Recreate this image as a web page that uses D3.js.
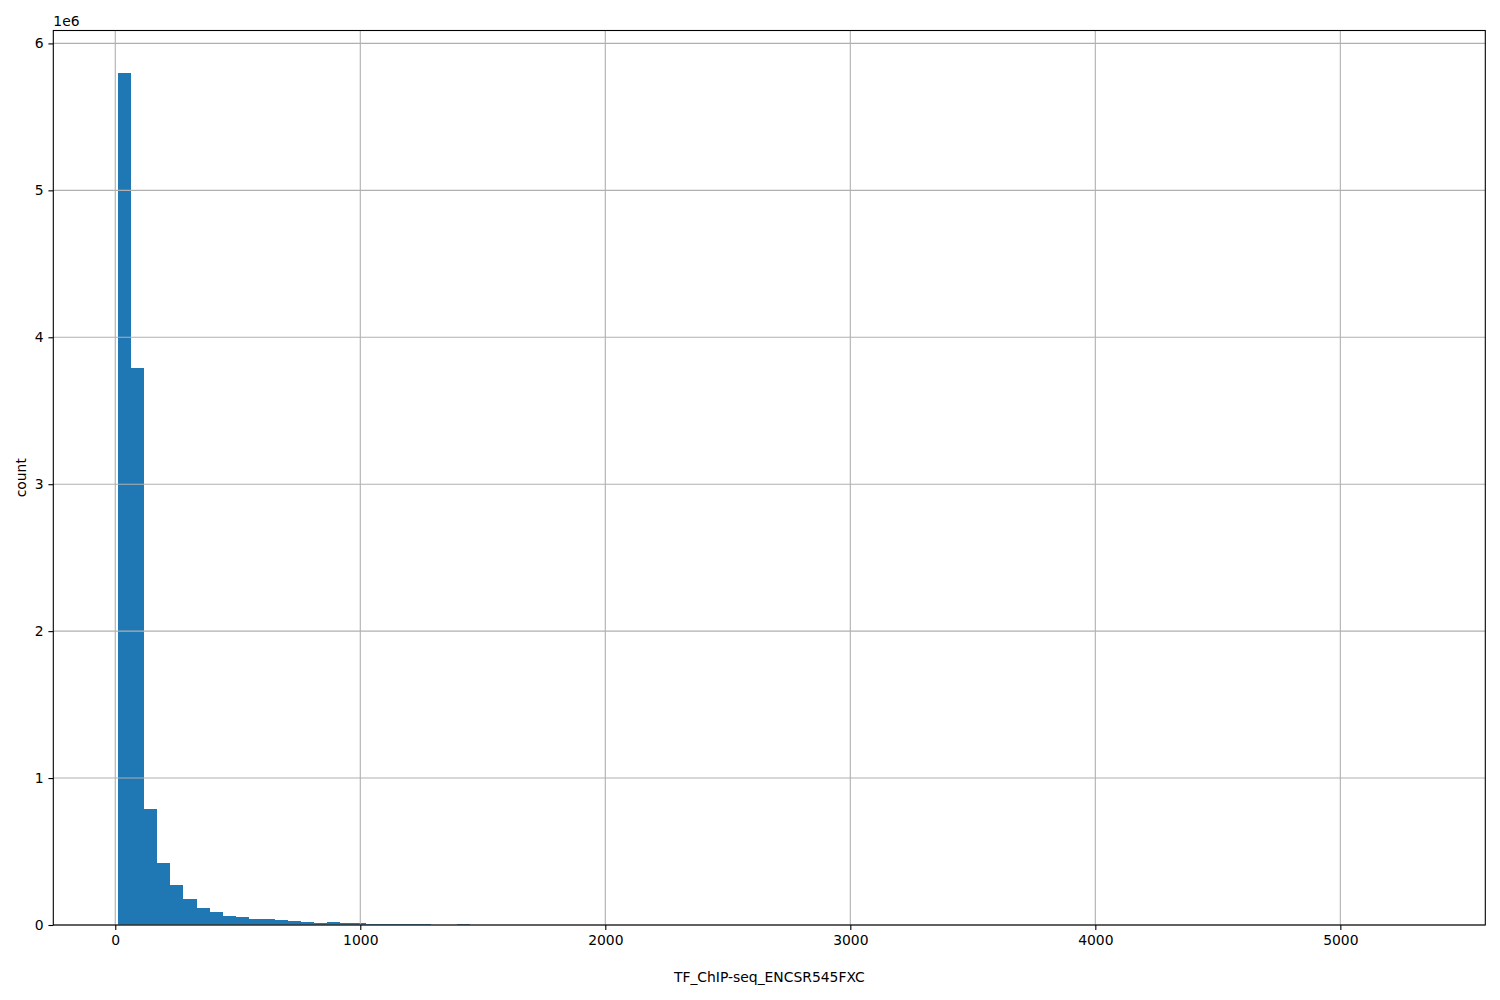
<!DOCTYPE html>
<html>
<head>
<meta charset="utf-8">
<script src="https://cdn.jsdelivr.net/npm/d3@7"></script>
<style>
  body { margin: 0; background: #fff; }
  svg { display: block; font-family: "DejaVu Sans", sans-serif; }
</style>
</head>
<body>
<svg id="chart" width="1500" height="1000"></svg>
<script>
// ---- data ----
const binStart = 12.7;      // left edge of first bin
const binWidth = 53.14;     // width of each bin
const dataMax = 5326;       // right edge of last bin
const counts = [
  5798000, 3790000, 789000, 422000, 272000, 177000, 116000, 88000, 61000, 54000,
  42000, 40000, 34000, 27000, 20000, 14000, 20000, 15000, 13000, 8000,
  7000, 7000, 6000, 6000, 1500, 1000, 6000, 500, 300, 200,
  0, 0, 0, 0, 0, 0, 0, 0, 0, 0,
  0, 0, 0, 0, 0, 0, 0, 0, 0, 0,
  0, 0, 0, 0, 0, 0, 0, 0, 0, 0,
  0, 0, 0, 0, 0, 0, 0, 0, 0, 0,
  0, 0, 0, 0, 0, 0, 0, 0, 0, 0,
  0, 0, 0, 0, 0, 0, 0, 0, 0, 0,
  0, 0, 0, 0, 0, 0, 0, 0, 0, 0
];
const xTicks = [0, 1000, 2000, 3000, 4000, 5000];
const yTicks = [0, 1e6, 2e6, 3e6, 4e6, 5e6, 6e6];
const xLabel = "TF_ChIP-seq_ENCSR545FXC";
const yLabel = "count";
const offsetLabel = "1e6";

// ---- layout ----
const svg = d3.select("#chart");
const L = 53.3, R = 1485.3, T = 30.5, B = 925;
const range = dataMax - binStart;
const x = d3.scaleLinear()
  .domain([binStart - 0.05 * range, dataMax + 0.05 * range])
  .range([L, R]);
const yMax = d3.max(counts) * 1.05;
const y = d3.scaleLinear().domain([0, yMax]).range([B, T]);

const bins = counts.map((c, i) => ({
  x0: binStart + i * binWidth,
  x1: binStart + (i + 1) * binWidth,
  c
}));

// bars
svg.append("g").selectAll("rect").data(bins.filter(d => d.c > 0)).join("rect")
  .attr("x", d => x(d.x0))
  .attr("width", d => x(d.x1) - x(d.x0))
  .attr("y", d => y(d.c))
  .attr("height", d => y(0) - y(d.c))
  .attr("fill", "#1f77b4")
  .attr("shape-rendering", "crispEdges");

// grid (drawn over bars)
const grid = svg.append("g").attr("stroke", "#b0b0b0").attr("stroke-width", 1.1);
grid.selectAll(".gx").data(xTicks).join("line")
  .attr("x1", d => x(d)).attr("x2", d => x(d))
  .attr("y1", T).attr("y2", B);
grid.selectAll(".gy").data(yTicks).join("line")
  .attr("x1", L).attr("x2", R)
  .attr("y1", d => y(d)).attr("y2", d => y(d));

// axes
const fontSize = "13.9px";
const xAxis = svg.append("g").attr("transform", `translate(0,${B})`)
  .call(d3.axisBottom(x).tickValues(xTicks).tickSize(4.9).tickPadding(4.9).tickFormat(d3.format("d")));
const yAxis = svg.append("g").attr("transform", `translate(${L},0)`)
  .call(d3.axisLeft(y).tickValues(yTicks).tickSize(4.9).tickPadding(4.9).tickFormat(d => d3.format("d")(d / 1e6)));
[xAxis, yAxis].forEach(a => {
  a.select(".domain").remove();
  a.selectAll(".tick line").attr("stroke", "#000").attr("stroke-width", 1.1);
  a.selectAll(".tick text").attr("fill", "#000").style("font-size", fontSize)
    .style("font-family", "'DejaVu Sans', sans-serif");
});

// frame
svg.append("rect")
  .attr("x", L).attr("y", T).attr("width", R - L).attr("height", B - T)
  .attr("fill", "none").attr("stroke", "#000").attr("stroke-width", 1.1);

// labels
svg.append("text")
  .attr("x", (L + R) / 2).attr("y", 982)
  .attr("text-anchor", "middle").style("font-size", fontSize)
  .text(xLabel);
svg.append("text")
  .attr("transform", `translate(26,${(T + B) / 2}) rotate(-90)`)
  .attr("text-anchor", "middle").style("font-size", fontSize)
  .text(yLabel);
svg.append("text")
  .attr("x", L).attr("y", 26)
  .style("font-size", fontSize)
  .text(offsetLabel);
</script>
</body>
</html>
